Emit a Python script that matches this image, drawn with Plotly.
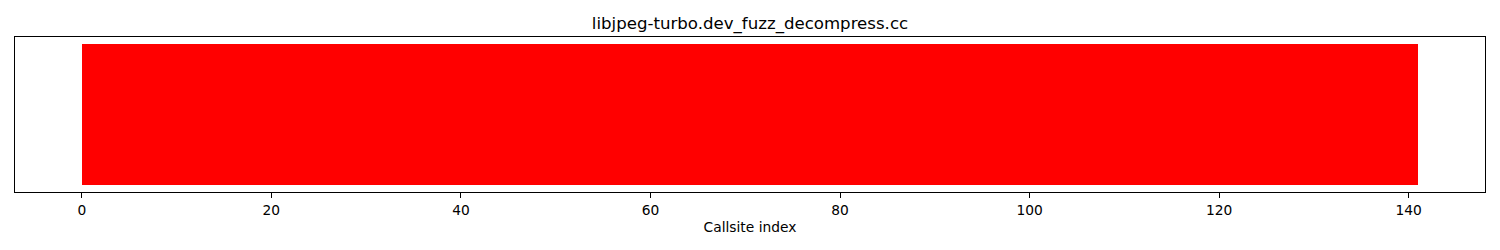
import plotly.graph_objects as go

title = "libjpeg-turbo.dev_fuzz_decompress.cc"
x_label = "Callsite index"
tick_values = [0, 20, 40, 60, 80, 100, 120, 140]
tick_labels = ["0", "20", "40", "60", "80", "100", "120", "140"]

# one bar per callsite (141 callsites), all reached -> height 1, coloured red
callsite_heights = [
    1, 1, 1, 1, 1, 1, 1, 1, 1, 1, 1, 1, 1, 1, 1, 1, 1, 1, 1, 1,
    1, 1, 1, 1, 1, 1, 1, 1, 1, 1, 1, 1, 1, 1, 1, 1, 1, 1, 1, 1,
    1, 1, 1, 1, 1, 1, 1, 1, 1, 1, 1, 1, 1, 1, 1, 1, 1, 1, 1, 1,
    1, 1, 1, 1, 1, 1, 1, 1, 1, 1, 1, 1, 1, 1, 1, 1, 1, 1, 1, 1,
    1, 1, 1, 1, 1, 1, 1, 1, 1, 1, 1, 1, 1, 1, 1, 1, 1, 1, 1, 1,
    1, 1, 1, 1, 1, 1, 1, 1, 1, 1, 1, 1, 1, 1, 1, 1, 1, 1, 1, 1,
    1, 1, 1, 1, 1, 1, 1, 1, 1, 1, 1, 1, 1, 1, 1, 1, 1, 1, 1, 1,
    1,
]
bar_color = "#ff0000"

n = len(callsite_heights)
x_centers = [i + 0.5 for i in range(n)]

fig = go.Figure(
    go.Bar(
        x=x_centers,
        y=callsite_heights,
        width=1,
        marker=dict(color=bar_color, line=dict(width=0)),
        hoverinfo="skip",
    )
)

pad_x = 0.05 * n
fig.update_layout(
    width=1500,
    height=250,
    margin=dict(l=15, r=15, t=37, b=58),
    paper_bgcolor="white",
    plot_bgcolor="white",
    font=dict(family="DejaVu Sans", color="black", size=13.8),
    title=dict(
        text=title,
        x=0.5,
        xanchor="center",
        y=1 - 23 / 250,
        yanchor="middle",
        font=dict(size=16.6, color="black"),
    ),
    bargap=0,
    showlegend=False,
)
fig.update_xaxes(
    range=[-pad_x, n + pad_x],
    tickvals=tick_values,
    ticktext=tick_labels,
    ticks="outside",
    ticklen=5,
    tickwidth=1,
    tickcolor="black",
    showline=True,
    linecolor="black",
    linewidth=1,
    mirror=True,
    showgrid=False,
    zeroline=False,
    title=dict(text=x_label, font=dict(size=13.8), standoff=5),
    tickfont=dict(size=13.8),
)
fig.update_yaxes(
    range=[-0.05, 1.05],
    showticklabels=False,
    ticks="",
    showline=True,
    linecolor="black",
    linewidth=1,
    mirror=True,
    showgrid=False,
    zeroline=False,
)

fig.write_html("out.html")
